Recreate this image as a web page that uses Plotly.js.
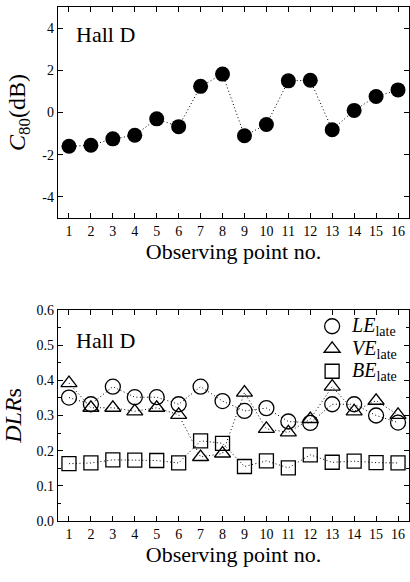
<!DOCTYPE html>
<html>
<head>
<meta charset="utf-8">
<script src="https://cdn.plot.ly/plotly-3.0.1.min.js"></script>
<style>html,body{margin:0;padding:0;background:#fff;}#chart{width:410px;height:582px;}</style>
</head>
<body>
<div id="chart"></div>
<script>
const points = [1,2,3,4,5,6,7,8,9,10,11,12,13,14,15,16];
const c80 = [-1.6,-1.55,-1.25,-1.08,-0.3,-0.67,1.24,1.82,-1.1,-0.57,1.5,1.53,-0.82,0.1,0.76,1.07];
const leLate = [0.351,0.332,0.382,0.352,0.352,0.332,0.382,0.341,0.313,0.321,0.283,0.279,0.332,0.332,0.300,0.280];
const veLate = [0.392,0.322,0.322,0.312,0.322,0.302,0.182,0.192,0.365,0.262,0.252,0.290,0.382,0.312,0.342,0.302];
const beLate = [0.163,0.165,0.174,0.173,0.172,0.165,0.228,0.221,0.155,0.171,0.151,0.188,0.167,0.170,0.166,0.165];
const xTicks = points;
const c80Ticks = [-4,-2,0,2,4];
const dlrTicks = [0.0,0.1,0.2,0.3,0.4,0.5,0.6];
const seriesNames = ['LE','VE','BE'];

const serif = '"Liberation Serif", "Times New Roman", Times, serif';
const lineStyle = {color:'#000', width:1, dash:'1px,2.5px'};
const legName = n => '<span style="font-size:20px"><i>' + n + '</i><sub>late</sub></span>';

const traces = [
  {x:points, y:c80, xaxis:'x', yaxis:'y', mode:'lines+markers', showlegend:false,
   line:lineStyle, marker:{symbol:'circle', size:15, color:'#000'}},
  // dotted connecting lines (no legend)
  {x:points, y:leLate, xaxis:'x2', yaxis:'y2', mode:'lines', showlegend:false, line:lineStyle},
  {x:points, y:veLate, xaxis:'x2', yaxis:'y2', mode:'lines', showlegend:false, line:lineStyle},
  {x:points, y:beLate, xaxis:'x2', yaxis:'y2', mode:'lines', showlegend:false, line:lineStyle},
  // markers with legend entries
  {x:points, y:leLate, xaxis:'x2', yaxis:'y2', mode:'markers', name:legName(seriesNames[0]),
   marker:{symbol:'circle-open', size:15, color:'#000', line:{width:1.3}}},
  {x:points, y:veLate, xaxis:'x2', yaxis:'y2', mode:'markers', name:legName(seriesNames[1]),
   marker:{symbol:'triangle-up-open', size:14, color:'#000', line:{width:1.3}}},
  {x:points, y:beLate, xaxis:'x2', yaxis:'y2', mode:'markers', name:legName(seriesNames[2]),
   marker:{symbol:'square-open', size:14, color:'#000', line:{width:1.3}}}
];

const tickFont = {family:serif, size:14, color:'#000'};
const xCommon = {range:[0.5,16.5], tickvals:xTicks, ticktext:xTicks.map(String), ticks:'inside', ticklen:5,
  tickcolor:'#000', mirror:'ticks', showline:true, linecolor:'#000', linewidth:1.2, showgrid:false,
  zeroline:false, tickfont:tickFont,
  title:{text:'Observing point no.', font:{family:serif, size:22, color:'#000'}, standoff:1}};

const layout = {
  width:410, height:582,
  margin:{l:58, r:1, t:7, b:61},
  paper_bgcolor:'#fff', plot_bgcolor:'#fff',
  font:{family:serif, color:'#000'},
  xaxis: Object.assign({}, xCommon, {anchor:'y', domain:[0,1]}),
  xaxis2: Object.assign({}, xCommon, {anchor:'y2', domain:[0,1]}),
  yaxis: {domain:[0.5895,1], anchor:'x', range:[-5,5], tickvals:c80Ticks, ticktext:c80Ticks.map(String),
    ticks:'inside', ticklen:5, tickcolor:'#000', mirror:'ticks', showline:true, linecolor:'#000', linewidth:1.2,
    showgrid:false, zeroline:false, tickfont:tickFont,
    title:{text:'<i>C</i><sub>80</sub>(dB)', font:{family:serif, size:24, color:'#000'}, standoff:10}},
  yaxis2: {domain:[0,0.4105], anchor:'x2', range:[0,0.6], tickvals:dlrTicks, ticktext:dlrTicks.map(v=>v.toFixed(1)),
    ticks:'inside', ticklen:5, tickcolor:'#000', mirror:'ticks', showline:true, linecolor:'#000', linewidth:1.2,
    showgrid:false, zeroline:false, tickfont:tickFont,
    minor:{tickvals:[0.05,0.15,0.25,0.35,0.45,0.55], ticks:'inside', ticklen:3, tickcolor:'#000'},
    title:{text:'<i>DLR</i>s', font:{family:serif, size:24, color:'#000'}, standoff:10}},
  legend:{x:0.724, xanchor:'left', y:0.4105, yanchor:'top', yref:'paper', bgcolor:'rgba(0,0,0,0)',
    font:{family:serif, size:15, color:'#000'}, tracegroupgap:0, itemwidth:30},
  annotations:[
    {text:'Hall D', xref:'paper', yref:'paper', x:0.045, y:0.975, xanchor:'left', yanchor:'top', showarrow:false,
     font:{family:serif, size:22, color:'#000'}},
    {text:'Hall D', xref:'paper', yref:'paper', x:0.045, y:0.379, xanchor:'left', yanchor:'top', showarrow:false,
     font:{family:serif, size:22, color:'#000'}}
  ]
};

Plotly.newPlot('chart', traces, layout, {displayModeBar:false, staticPlot:true});
</script>
</body>
</html>
